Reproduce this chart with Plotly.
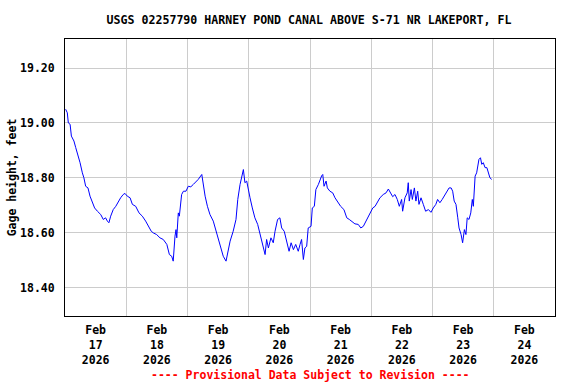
import pandas as pd
import plotly.graph_objects as go

# Hours after 2026-02-17 00:00 and gage height (feet)
hours = [0.25, 0.9, 1.3, 2.0, 2.5, 3.5, 4.2, 5.1, 5.9, 6.8, 7.4, 8.1, 9.0, 9.8, 10.7, 11.6,
         12.7, 14.0, 15.0, 15.9, 16.6, 17.2, 17.9, 18.9, 19.9, 20.8, 21.8, 22.8, 23.5, 24.4,
         25.5, 26.4, 27.7, 29.0, 30.3, 31.6, 32.9, 33.8, 34.6, 35.9, 37.2, 38.5, 39.9, 40.9,
         41.8, 42.4, 43.1, 43.5, 43.8, 44.4, 44.8, 45.7, 46.4, 47.4, 48.3, 49.3, 50.3, 51.3,
         52.2, 53.6, 54.2, 54.9, 55.8, 56.8, 58.1, 59.2, 60.1, 61.0, 62.0, 63.1, 64.0, 64.7,
         65.9, 67.0, 67.7, 68.3, 68.6, 69.9, 70.5, 71.2, 71.8, 72.5, 73.4, 74.4, 75.5, 76.4,
         77.3, 78.4, 79.0, 79.7, 80.7, 81.6, 82.3, 83.3, 84.2, 84.9, 85.9, 86.9, 87.8, 88.6,
         89.5, 90.4, 91.4, 92.1, 92.7, 93.4, 94.0, 94.7, 95.3, 96.4, 96.9, 97.7, 98.3, 99.3,
         99.9, 100.6, 101.0, 101.5, 102.3, 102.8, 103.8, 104.9, 105.8, 107.1, 108.0, 109.3,
         110.4, 111.4, 112.3, 113.6, 114.9, 115.9, 116.9, 117.6, 118.5, 119.5, 120.6, 121.5,
         122.4, 123.4, 124.7, 125.8, 126.7, 127.6, 128.4, 129.3, 130.2, 131.0, 131.9, 132.3,
         133.2, 134.1, 134.5, 134.9, 135.6, 136.1, 136.9, 137.5, 138.2, 138.7, 139.5, 140.4,
         141.3, 142.4, 143.4, 144.3, 145.3, 146.0, 146.9, 147.8, 148.6, 149.6, 150.5, 151.3,
         151.9, 152.5, 153.2, 153.9, 154.4, 155.2, 155.8, 156.5, 157.1, 157.6, 158.3, 159.0,
         159.6, 160.0, 160.4, 160.7, 161.3, 161.7, 162.2, 162.8, 163.3, 163.9, 164.6, 165.3,
         166.0, 166.5, 167.2]
gage_ft = [19.050, 19.037, 19.000, 18.995, 18.952, 18.934, 18.910, 18.885, 18.855, 18.818,
           18.800, 18.769, 18.763, 18.733, 18.709, 18.690, 18.678, 18.666, 18.648, 18.654,
           18.642, 18.636, 18.660, 18.684, 18.696, 18.712, 18.727, 18.739, 18.743, 18.733,
           18.727, 18.703, 18.696, 18.672, 18.660, 18.642, 18.618, 18.605, 18.599, 18.593,
           18.581, 18.575, 18.557, 18.520, 18.514, 18.496, 18.587, 18.611, 18.581, 18.672,
           18.660, 18.739, 18.751, 18.751, 18.769, 18.767, 18.776, 18.784, 18.794, 18.812,
           18.769, 18.733, 18.696, 18.666, 18.642, 18.605, 18.581, 18.544, 18.514, 18.496,
           18.538, 18.569, 18.605, 18.648, 18.721, 18.769, 18.776, 18.830, 18.782, 18.788,
           18.757, 18.727, 18.690, 18.654, 18.630, 18.593, 18.563, 18.520, 18.575, 18.544,
           18.581, 18.563, 18.605, 18.648, 18.654, 18.617, 18.605, 18.569, 18.532, 18.563,
           18.538, 18.557, 18.532, 18.557, 18.575, 18.502, 18.544, 18.550, 18.617, 18.623,
           18.690, 18.696, 18.757, 18.776, 18.794, 18.808, 18.812, 18.769, 18.788, 18.763,
           18.751, 18.745, 18.727, 18.709, 18.696, 18.684, 18.654, 18.648, 18.642, 18.632,
           18.630, 18.617, 18.623, 18.636, 18.654, 18.672, 18.690, 18.696, 18.709, 18.727,
           18.739, 18.745, 18.759, 18.745, 18.731, 18.739, 18.721, 18.696, 18.721, 18.678,
           18.727, 18.745, 18.782, 18.715, 18.757, 18.721, 18.763, 18.715, 18.751, 18.703,
           18.727, 18.703, 18.678, 18.684, 18.674, 18.690, 18.703, 18.721, 18.709, 18.721,
           18.733, 18.751, 18.763, 18.763, 18.751, 18.715, 18.703, 18.654, 18.617, 18.593,
           18.563, 18.611, 18.593, 18.654, 18.648, 18.672, 18.721, 18.696, 18.751, 18.806,
           18.818, 18.849, 18.867, 18.873, 18.849, 18.855, 18.837, 18.837, 18.812, 18.800,
           18.794]

day_starts = ["2026-02-17", "2026-02-18", "2026-02-19", "2026-02-20",
              "2026-02-21", "2026-02-22", "2026-02-23", "2026-02-24"]
x_tick_labels = ["Feb<br>17<br>2026", "Feb<br>18<br>2026", "Feb<br>19<br>2026", "Feb<br>20<br>2026",
                 "Feb<br>21<br>2026", "Feb<br>22<br>2026", "Feb<br>23<br>2026", "Feb<br>24<br>2026"]
y_ticks = [18.40, 18.60, 18.80, 19.00, 19.20]
y_tick_labels = ["18.40", "18.60", "18.80", "19.00", "19.20"]

start = pd.Timestamp("2026-02-17 00:00")
times = [start + pd.Timedelta(hours=h) for h in hours]
tick_pos = [pd.Timestamp(d) + pd.Timedelta(hours=12) for d in day_starts]

FONT = "DejaVu Sans Mono"

fig = go.Figure()
fig.add_trace(go.Scatter(x=times, y=gage_ft, mode="lines",
                         line=dict(color="#0000ff", width=1), showlegend=False))

fig.update_layout(
    width=576, height=384,
    margin=dict(l=65, r=21, t=39, b=68, autoexpand=False),
    paper_bgcolor="white", plot_bgcolor="white",
    font=dict(family=FONT, size=11.5, color="black", weight="bold"),
    title=dict(text="USGS 02257790 HARNEY POND CANAL ABOVE S-71 NR LAKEPORT, FL",
               x=309 / 576, xanchor="center", y=1 - 20 / 384, yanchor="middle",
               xref="container", yref="container",
               font=dict(family=FONT, size=11.6, color="black", weight="bold")),
    xaxis=dict(type="date", range=["2026-02-17", "2026-02-25"], automargin=False,
               tickmode="array", tickvals=tick_pos, ticktext=x_tick_labels,
               showgrid=False, ticks="", ticklabelstandoff=3,
               showline=True, linecolor="black", linewidth=1, mirror=True,
               minor=dict(tickmode="linear", tick0="2026-02-17", dtick=86400000,
                          showgrid=True, gridcolor="#cccccc", gridwidth=1, ticks=""),
               zeroline=False),
    yaxis=dict(range=[18.296, 19.306], automargin=False, tickmode="array", tickvals=y_ticks,
               ticktext=y_tick_labels, showgrid=True, gridcolor="#cccccc", gridwidth=1,
               ticks="", ticklabelstandoff=7,
               showline=True, linecolor="black", linewidth=1, mirror=True,
               zeroline=False,
               title=dict(text="Gage height, feet", standoff=1,
                          font=dict(family=FONT, size=11.5, weight="bold"))),
    annotations=[dict(text="---- Provisional Data Subject to Revision ----",
                      xref="paper", yref="paper", x=0.5, y=-(375 - 316) / 277,
                      xanchor="center", yanchor="middle", showarrow=False,
                      font=dict(family=FONT, size=11.5, color="#ff0000", weight="bold"))],
)

fig.write_html("out.html", config={"displayModeBar": False},
               post_script="document.body.style.margin='0px';document.body.style.padding='0px';")
